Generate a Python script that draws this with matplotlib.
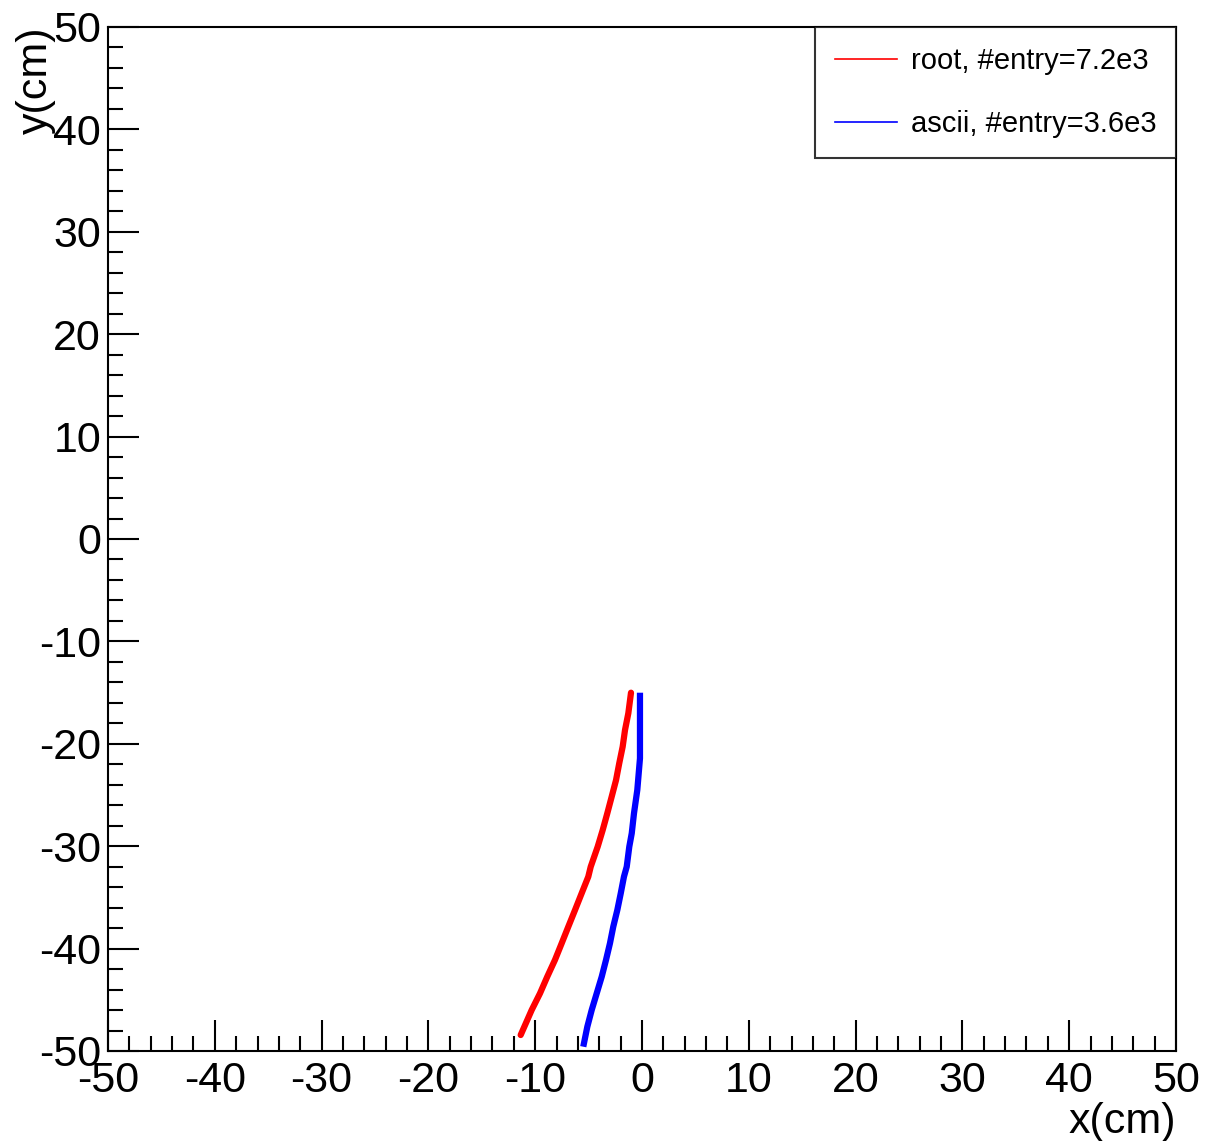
import numpy as np
import matplotlib.pyplot as plt
from matplotlib.lines import Line2D
from matplotlib.ticker import MultipleLocator

plt.rcParams['font.family'] = ['Liberation Sans', 'DejaVu Sans']
plt.rcParams['axes.unicode_minus'] = False

# Datos (cm)
root_x = [-1.03, -1.28, -1.59, -1.81, -2.13, -2.43, -2.84, -3.25, -3.68, -4.15, -4.80,
          -5.03, -5.65, -6.27, -6.90, -7.52, -8.15, -8.87, -9.55, -10.33, -11.36]
root_y = [-15.01, -17.02, -18.65, -20.28, -21.90, -23.54, -25.17, -26.79, -28.42, -30.05, -32.00,
          -32.98, -34.60, -36.23, -37.86, -39.48, -41.11, -42.74, -44.37, -46.00, -48.44]
ascii_x = [-0.19, -0.19, -0.44, -0.75, -0.96, -1.19, -1.43, -1.69, -1.99, -2.31, -2.69,
           -3.00, -3.37, -3.77, -4.24, -4.71, -5.12, -5.50]
ascii_y = [-15.01, -21.42, -24.51, -26.79, -28.74, -30.05, -32.00, -32.98, -34.60, -36.23, -37.86,
           -39.48, -41.11, -42.74, -44.37, -46.00, -47.63, -49.58]
etiquetas = ["root, #entry=7.2e3", "ascii, #entry=3.6e3"]

fig = plt.figure(figsize=(12.05, 11.41), dpi=100)
ax = fig.add_axes([108/1205, 1-1051/1141, (1176-108)/1205, (1051-27)/1141])

ax.plot(root_x, root_y, color="#ff0000", linewidth=4.5, solid_capstyle="round", solid_joinstyle="round")
ax.plot(ascii_x, ascii_y, color="#0000ff", linewidth=4.5, solid_capstyle="butt", solid_joinstyle="round")

ax.set_xlim(-50, 50)
ax.set_ylim(-50, 50)
ax.xaxis.set_major_locator(MultipleLocator(10))
ax.xaxis.set_minor_locator(MultipleLocator(2))
ax.yaxis.set_major_locator(MultipleLocator(10))
ax.yaxis.set_minor_locator(MultipleLocator(2))
ax.tick_params(which="both", direction="in", top=False, right=False, width=1.5, labelsize=31, colors="black")
ax.tick_params(which="major", length=22)
ax.tick_params(which="minor", length=11)
ax.tick_params(axis="y", pad=5)
ax.tick_params(axis="x", pad=7)
for s in ax.spines.values():
    s.set_linewidth(1.5)

ax.set_xlabel("x(cm)", fontsize=31, loc="right", labelpad=1)
ax.set_ylabel("y(cm)", fontsize=31, loc="top", labelpad=-12)

handles = [Line2D([], [], color="#ff0000", lw=1.2), Line2D([], [], color="#0000ff", lw=1.2)]
leg = ax.legend(handles, etiquetas, loc="upper right", bbox_to_anchor=(1.0, 1.0), fontsize=21,
                frameon=True, fancybox=False, borderaxespad=0, handlelength=2.13, handletextpad=0.45,
                labelspacing=1.2, borderpad=0.68)
leg.get_frame().set_edgecolor("black")
leg.get_frame().set_linewidth(1.5)

fig.savefig("out.png", dpi=100)
